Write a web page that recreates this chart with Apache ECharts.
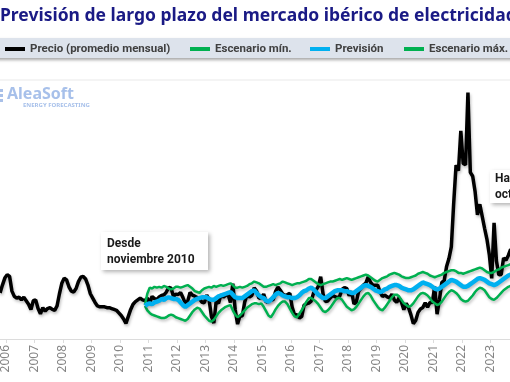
<!DOCTYPE html>
<html><head><meta charset="utf-8">
<script src="https://cdn.jsdelivr.net/npm/echarts@6/dist/echarts.min.js"></script>
<style>html,body{margin:0;padding:0;background:#fff}#c{width:510px;height:382px}</style>
</head><body><div id="c"></div>
<script>
// Monthly average price, starting October 2005
const priceStart = [2005, 10];
const price = [
  53, 62, 70,
  74, 72, 55, 49, 47, 48, 45, 48, 44, 40, 34, 44,
  45, 35, 29, 36, 32, 35, 36, 34, 33, 38, 52, 64,
  70, 68, 60, 55, 54, 58, 66, 71, 72, 69, 62, 52,
  47, 42, 38, 37, 37, 37, 36, 36, 35, 34, 33, 30,
  27, 23, 18, 26, 34, 40, 43, 45, 47, 45, 44, 47,
  41.2, 48.9, 46.4, 45.3, 48.3, 50.1, 50.8, 54.0, 59.2, 58.3, 49.0, 51.6,
  51.1, 53.5, 47.6, 41.2, 43.5, 53.5, 50.3, 49.2, 47.6, 46.2, 42.2, 41.7,
  50.5, 45.0, 25.9, 18.2, 43.5, 40.9, 51.2, 48.1, 50.2, 51.5, 41.8, 63.6,
  33.6, 17.1, 26.7, 26.4, 42.4, 50.9, 48.2, 49.9, 58.9, 55.1, 46.8, 47.5,
  51.6, 42.6, 43.1, 45.3, 45.1, 54.7, 59.6, 56.0, 51.9, 49.9, 51.2, 52.6,
  36.5, 27.5, 27.8, 24.1, 25.8, 38.9, 40.5, 41.2, 43.6, 52.8, 56.1, 60.5,
  71.5, 51.7, 43.2, 43.7, 47.1, 50.2, 48.6, 47.5, 49.2, 57.0, 59.2, 57.9,
  49.9, 54.9, 40.2, 42.7, 54.9, 58.5, 61.9, 64.3, 71.3, 65.1, 61.9, 61.8,
  61.9, 54.0, 48.8, 50.4, 48.4, 47.2, 51.5, 44.9, 42.1, 47.2, 42.2, 33.8,
  41.1, 35.9, 27.7, 17.7, 21.3, 30.6, 34.6, 36.2, 41.6, 36.6, 41.9, 41.9,
  60.2, 28.5, 45.4, 65.0, 67.1, 83.3, 92.4, 105.9, 156.1, 199.9, 193.4, 239.2,
  201.7, 200.2, 283.3, 191.5, 187.1, 169.6, 142.7, 154.9, 141.1, 127.3, 114.6, 96.9,
  69.6, 133.5, 89.6, 73.7, 74.2, 93.0, 90.5, 96.1, 103.2, 90.0
];
// Forecast series, starting November 2010
const forecastStart = [2010, 11];
const escenarioMin = [
  38, 33,
  30, 28, 27, 26, 25, 24, 24, 25, 27, 28, 27, 25,
  24, 23, 22, 21, 23, 27, 31, 34, 36, 35, 31, 27,
  24, 21, 20, 22, 26, 30, 33, 35, 37, 38, 39, 33,
  28, 25, 27, 30, 33, 36, 38, 40, 41, 41, 40, 41,
  37, 32, 27, 25, 29, 34, 38, 41, 43, 43, 40, 35,
  30, 26, 25, 29, 33, 38, 43, 47, 47, 45, 43, 40,
  36, 32, 31, 33, 36, 40, 44, 47, 47, 45, 41, 37,
  35, 33, 34, 37, 41, 45, 49, 52, 53, 50, 45, 41,
  37, 34, 33, 36, 40, 44, 48, 51, 51, 49, 45, 41,
  39, 37, 38, 41, 45, 49, 52, 53, 52, 50, 47, 43,
  41, 39, 40, 43, 47, 51, 54, 56, 55, 53, 50, 46,
  44, 43, 44, 47, 50, 54, 57, 59, 58, 56, 52, 48,
  46, 45, 47, 50, 53, 56, 58, 60, 61, 61, 60, 59
];
const prevision = [
  38, 40,
  41, 40, 42, 43, 44, 46, 45, 47, 48, 47, 46, 46,
  45, 42, 39, 37, 39, 41, 43, 45, 46, 47, 48, 48,
  48, 46, 45, 45, 47, 49, 50, 51, 52, 53, 54, 51,
  48, 47, 47, 47, 49, 51, 53, 55, 56, 53, 50, 48,
  47, 44, 43, 45, 48, 51, 53, 52, 50, 49, 48, 48,
  47, 47, 48, 50, 53, 55, 56, 58, 59, 57, 54, 51,
  49, 47, 47, 49, 51, 53, 55, 56, 56, 56, 55, 55,
  54, 53, 53, 55, 57, 59, 61, 62, 61, 60, 58, 56,
  55, 54, 55, 57, 58, 60, 61, 62, 62, 61, 59, 58,
  57, 56, 56, 57, 59, 61, 63, 65, 64, 63, 62, 60,
  58, 57, 58, 60, 62, 64, 66, 68, 67, 66, 64, 62,
  60, 60, 61, 63, 65, 67, 69, 70, 69, 68, 66, 64,
  63, 62, 63, 65, 67, 69, 71, 73, 74, 75, 74, 73
];
const escenarioMax = [
  39, 52,
  59, 58, 60, 59, 60, 59, 61, 60, 58, 57, 58, 60,
  60, 59, 60, 61, 62, 60, 58, 55, 54, 53, 56, 58,
  59, 60, 59, 61, 60, 61, 62, 61, 62, 63, 64, 62,
  59, 59, 60, 59, 60, 61, 63, 64, 66, 65, 64, 62,
  60, 60, 61, 62, 63, 62, 63, 64, 66, 65, 64, 63,
  62, 63, 64, 64, 65, 66, 67, 69, 69, 67, 65, 63,
  62, 63, 64, 65, 66, 66, 67, 68, 69, 68, 69, 70,
  69, 68, 69, 70, 71, 72, 73, 74, 73, 71, 69, 67,
  66, 68, 70, 71, 72, 74, 75, 76, 75, 74, 72, 71,
  70, 70, 71, 72, 73, 75, 76, 77, 76, 75, 73, 72,
  71, 72, 73, 74, 76, 77, 78, 79, 79, 78, 76, 76,
  75, 76, 77, 78, 79, 80, 81, 82, 81, 79, 77, 76,
  76, 77, 79, 80, 82, 83, 84, 85, 86, 87, 86, 85
];
const yearTicks = [2006, 2007, 2008, 2009, 2010, 2011, 2012, 2013, 2014, 2015, 2016, 2017, 2018, 2019, 2020, 2021, 2022, 2023];
const seriesNames = ['Precio (promedio mensual)', 'Escenario mín.', 'Previsión', 'Escenario máx.'];
const titleText = 'Previsión de largo plazo del mercado ibérico de electricidad';
const noteLeft = 'Desde\nnoviembre 2010';
const noteRight = 'Hasta\noctubre 2023';
// visible window of the (cropped) time axis
const xMin = 2005.79, xMax = 2023.684;

function toPairs(start, vals) {
  return vals.map((v, i) => {
    const m = start[1] - 1 + i;
    return [start[0] + (m + 0.5) / 12, v];
  });
}

const FONT = 'Roboto';
const chart = echarts.init(document.getElementById('c'), null, { renderer: 'canvas' });
const legendBase = {
  icon: 'rect', itemWidth: 20, itemHeight: 4, itemGap: 0, padding: 0, top: 43,
  selectedMode: false,
  textStyle: { fontFamily: FONT, fontSize: 11.5, fontWeight: 'bold', color: '#404040' }
};
const shadow = { shadowColor: 'rgba(0,0,0,0.25)', shadowBlur: 3, shadowOffsetY: 2, shadowOffsetX: 1 };
chart.setOption({
  animation: false,
  backgroundColor: '#ffffff',
  title: {
    text: titleText, left: 0, top: 7, padding: 0,
    textStyle: { fontFamily: 'Noto Sans', fontSize: 17.5, fontWeight: 'bold', color: '#1a1a85' }
  },
  legend: [
    Object.assign({}, legendBase, { left: 5, data: [seriesNames[0]] }),
    Object.assign({}, legendBase, { left: 190, data: [seriesNames[1]] }),
    Object.assign({}, legendBase, { left: 310, data: [seriesNames[2]] }),
    Object.assign({}, legendBase, { left: 404, data: [seriesNames[3]] })
  ],
  grid: { left: 0, right: 0, top: 78, bottom: 43, containLabel: false },
  xAxis: {
    type: 'value', min: xMin, max: xMax,
    axisLine: { show: true, lineStyle: { color: '#dcdcdc', width: 1 } },
    axisTick: { show: true, length: 4, customValues: yearTicks, lineStyle: { color: '#dcdcdc' } },
    splitLine: { show: false },
    axisLabel: { customValues: yearTicks, rotate: 90, margin: 6, fontFamily: 'Noto Sans', fontSize: 12, color: '#858585', formatter: v => String(Math.round(v)) }
  },
  yAxis: { type: 'value', min: 0, max: 300, show: false, splitLine: { show: false } },
  graphic: [
    { type: 'rect', z: -1, shape: { x: -5, y: 38, width: 520, height: 20 },
      style: { fill: '#dde3ec', shadowColor: 'rgba(0,0,0,0.35)', shadowBlur: 3, shadowOffsetY: 2 } },
    { type: 'line', shape: { x1: 0, y1: 80, x2: 510, y2: 80 }, style: { stroke: '#e9e9e9', lineWidth: 1 } },
    { type: 'rect', shape: { x: 0, y: 89, width: 3, height: 3 }, style: { fill: '#a9c0e8' } },
    { type: 'rect', shape: { x: 0, y: 94, width: 3, height: 3 }, style: { fill: '#a9c0e8' } },
    { type: 'rect', shape: { x: 0, y: 99, width: 3, height: 3 }, style: { fill: '#a9c0e8' } },
    { type: 'text', x: 7, y: 86, style: { text: 'AleaSoft', font: 'bold 16px "Noto Sans"', fill: '#a7c0ea' } },
    { type: 'text', x: 23, y: 102, style: { text: 'ENERGY FORECASTING', font: 'bold 6px "Noto Sans"', fill: '#a7c0ea' } },
    { type: 'group', z: 100, children: [
      { type: 'rect', shape: { x: 101, y: 232, width: 107, height: 38 },
        style: { fill: '#ffffff', shadowColor: 'rgba(0,0,0,0.3)', shadowBlur: 4, shadowOffsetX: 2, shadowOffsetY: 2 } },
      { type: 'text', x: 107, y: 236, style: { text: noteLeft, font: 'bold 12px Roboto', lineHeight: 16, fill: '#1a1a1a' } }
    ] },
    { type: 'group', z: 100, children: [
      { type: 'rect', shape: { x: 490, y: 170, width: 110, height: 33 },
        style: { fill: '#ffffff', shadowColor: 'rgba(0,0,0,0.3)', shadowBlur: 4, shadowOffsetX: 2, shadowOffsetY: 2 } },
      { type: 'text', x: 495, y: 171, style: { text: noteRight, font: 'bold 12px Roboto', lineHeight: 16, fill: '#1a1a1a' } }
    ] }
  ],
  series: [
    { name: seriesNames[0], type: 'line', symbol: 'none', data: toPairs(priceStart, price), z: 2,
      itemStyle: { color: '#000000' }, lineStyle: Object.assign({ color: '#000000', width: 3.5 }, shadow) },
    { name: seriesNames[1], type: 'line', symbol: 'none', data: toPairs(forecastStart, escenarioMin), z: 3,
      itemStyle: { color: '#00b050' }, lineStyle: Object.assign({ color: '#00b050', width: 2.5 }, shadow) },
    { name: seriesNames[2], type: 'line', symbol: 'none', data: toPairs(forecastStart, prevision), z: 4,
      itemStyle: { color: '#00b0f0' }, lineStyle: Object.assign({ color: '#00b0f0', width: 4.5 }, shadow) },
    { name: seriesNames[3], type: 'line', symbol: 'none', data: toPairs(forecastStart, escenarioMax), z: 3,
      itemStyle: { color: '#00b050' }, lineStyle: Object.assign({ color: '#00b050', width: 2.5 }, shadow) }
  ]
});
</script></body></html>
